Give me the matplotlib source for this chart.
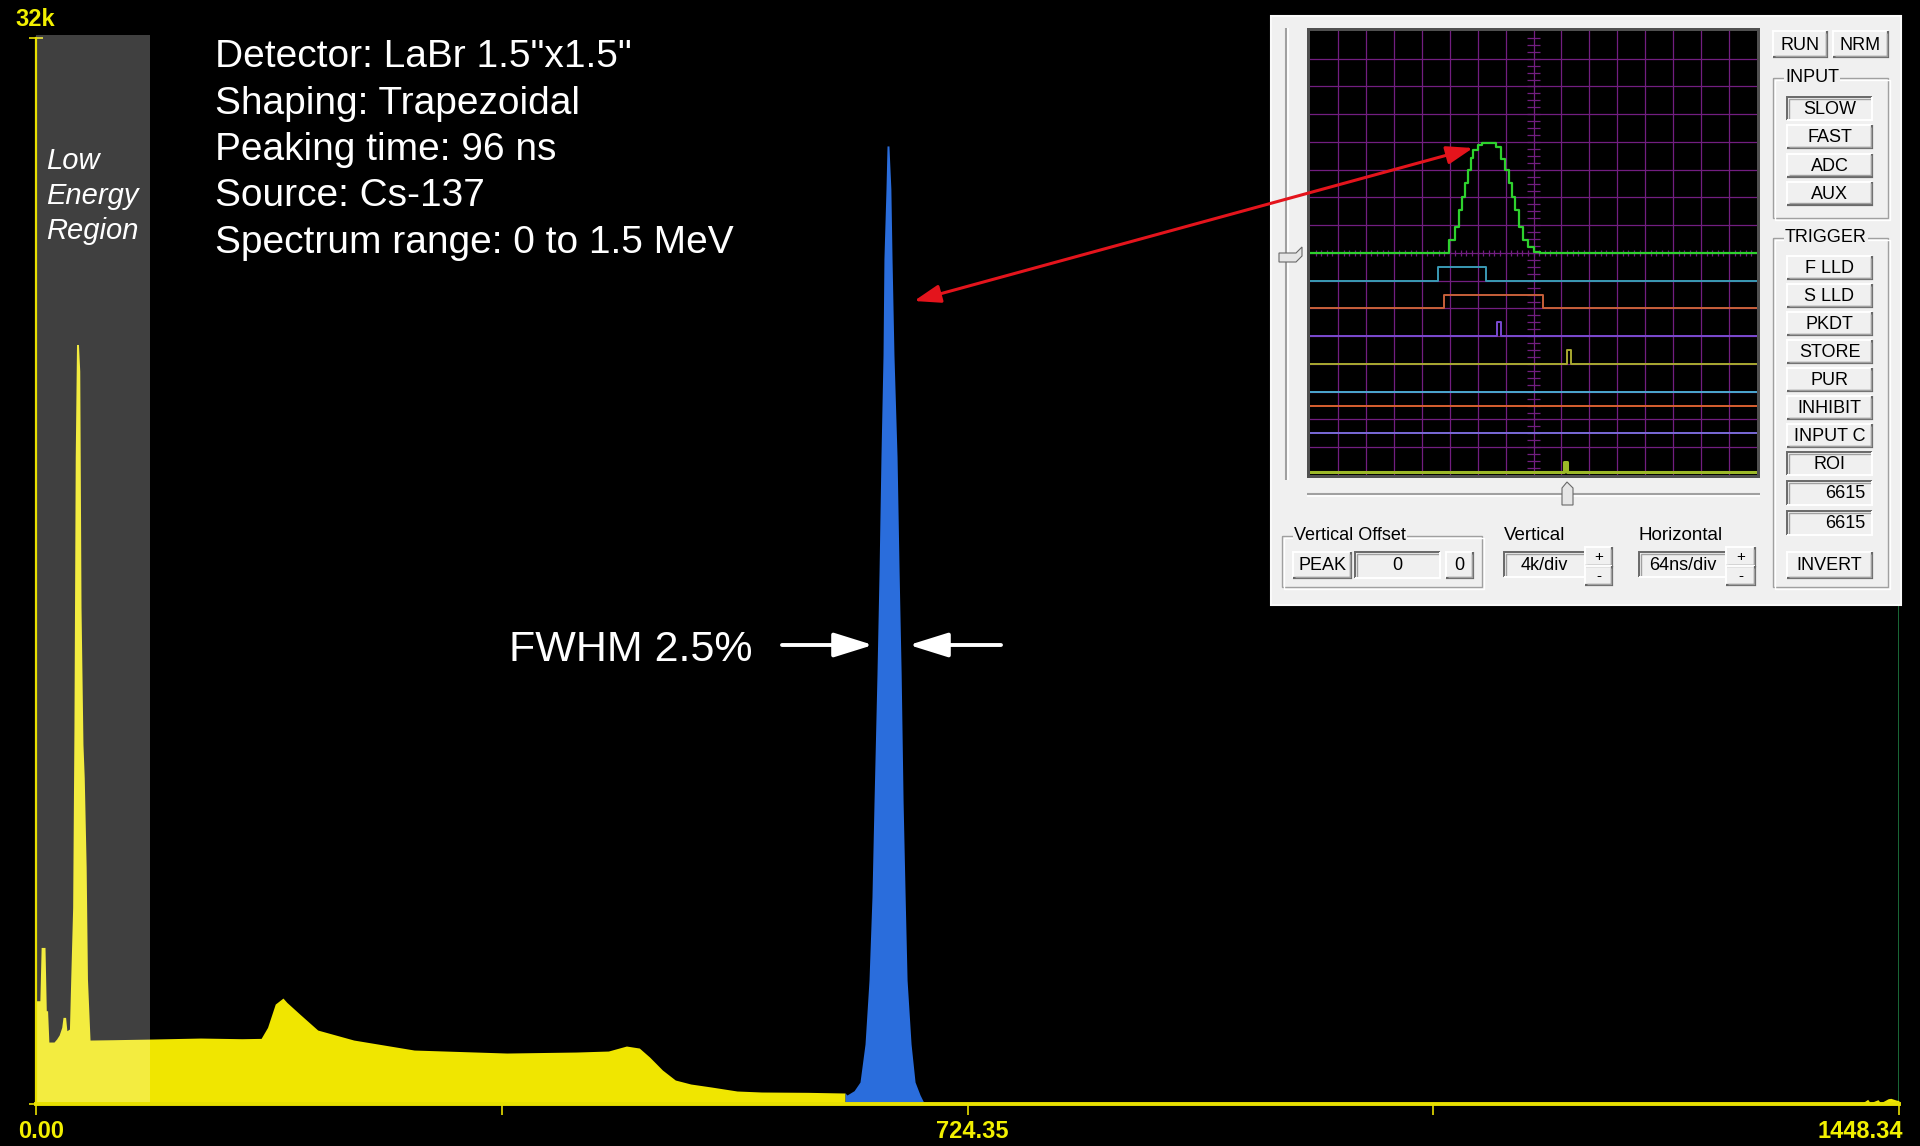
import matplotlib
matplotlib.use('Agg')
import matplotlib.pyplot as plt
from matplotlib.patches import Rectangle, FancyArrowPatch, ArrowStyle, Polygon

W, H = 1920, 1146

# ---------------- spectrum data (channel, counts) ----------------
low_ch = [0, 3, 4, 7, 8, 9, 10, 14, 16, 18, 20, 21, 23, 24, 26, 27, 28.5, 29.5, 30.5, 31.5,
          33, 34, 35, 36.5, 37.5, 39, 40, 42, 60, 90, 128, 160, 175, 180, 186, 192, 195, 205, 219, 247,
          294, 366, 420, 445, 459, 469, 477, 487, 497, 509, 525, 545, 564, 600, 629]
low_counts = [3100, 3100, 4700, 4700, 2800, 2800, 1860, 1860, 1950, 2070, 2300, 2600, 2600, 2200, 2250,
              3750, 5900, 11300, 19400, 22800, 22800, 22000, 14900, 10800, 9800, 7100, 3750, 1920, 1930,
              1950, 1980, 1960, 1970, 2300, 3000, 3180, 3050, 2700, 2220, 1920, 1620, 1530, 1560, 1590,
              1740, 1680, 1410, 1020, 720, 600, 510, 390, 360, 350, 330]
roi_ch = [629, 630.5, 636, 640.6, 644.5, 647.6, 649.9, 651.5, 653.8, 655.4, 656.9, 658.5, 659.2, 660.8,
          661.6, 663.1, 664.6, 665.5, 667.0, 669.4, 671.0, 672.6, 674.1, 675.7, 677.2, 680.3, 683.4,
          687.3, 690]
roi_counts = [330, 270, 400, 660, 1800, 3720, 6210, 9070, 12910, 15970, 19430, 22490, 25370, 27470,
              28760, 28760, 27470, 25370, 22490, 19430, 15970, 12910, 9070, 6210, 3720, 1800, 660, 270, 60]
high_ch = [690, 700, 1200, 1420, 1424, 1426, 1432, 1434, 1440, 1442, 1446, 1448.34]
high_counts = [60, 40, 35, 35, 140, 35, 130, 35, 160, 170, 120, 100]

low_energy_region = [0, 89]
x_max = 1448.34
y_max = 32000
y_max_label = '32k'
x_ticks = [0, 362.2, 724.35, 1086.3, 1448.34]
x_tick_labels = ['0.00', '', '724.35', '', '1448.34']
info_lines = ['Detector: LaBr 1.5"x1.5"', 'Shaping: Trapezoidal', 'Peaking time: 96 ns',
              'Source: Cs-137', 'Spectrum range: 0 to 1.5 MeV']
region_label = ['Low', 'Energy', 'Region']
fwhm_label = 'FWHM 2.5%'

# ---------------- oscilloscope inset traces (in divisions) ----------------
green_x = [0, 4.96, 5.18, 5.33, 5.44, 5.56, 5.67, 5.78, 5.85, 6.0, 6.15, 6.45, 6.67, 6.82, 6.97,
           7.12, 7.24, 7.34, 7.49, 7.64, 7.82, 8.01, 8.23, 16]
green_y = [8.0, 8.47, 8.95, 9.55, 10.03, 10.51, 10.99, 11.41, 11.71, 11.89, 11.98, 11.95, 11.83, 11.4,
           10.99, 10.51, 10.03, 9.55, 8.95, 8.47, 8.2, 8.05, 8.0, 8.0]
teal_x, teal_y = [0, 4.59, 6.3, 16], [7, 7.5, 7, 7]
orange_x, orange_y = [0, 4.8, 8.34, 16], [6, 6.5, 6, 6]
purple_x, purple_y = [0, 6.7, 6.82, 16], [5, 5.5, 5, 5]
olive_x, olive_y = [0, 9.2, 9.33, 16], [4, 4.5, 4, 4]
cyan_x, cyan_y = [0, 16], [3, 3]
orange2_x, orange2_y = [0, 16], [2.5, 2.5]
lav_x, lav_y = [0, 16], [1.5, 1.5]
bottom_x, bottom_y = [0, 9.08, 9.2, 16], [0.1, 0.47, 0.1, 0.1]

input_buttons = ['SLOW', 'FAST', 'ADC', 'AUX']
trigger_buttons = ['F LLD', 'S LLD', 'PKDT', 'STORE', 'PUR', 'INHIBIT', 'INPUT C', 'ROI']
roi_fields = ['6615', '6615']

SANS = 'Liberation Sans'

fig = plt.figure(figsize=(W / 100, H / 100), dpi=100, facecolor='black')


def fbox(x0, y0, x1, y1):
    return [x0 / W, 1 - y1 / H, (x1 - x0) / W, (y1 - y0) / H]


# ---------------- main spectrum ----------------
YEL = '#f0e600'
AXC = '#e8e000'
ax = fig.add_axes(fbox(36, 38, 1899, 1104), zorder=1)
ax.set_facecolor('black')
ax.set_xlim(0, x_max)
ax.set_ylim(0, y_max)
ax.fill_between(low_ch, low_counts, color=YEL, lw=0, zorder=2)
ax.fill_between(high_ch, high_counts, color=YEL, lw=0, zorder=2)
ax.fill_between(roi_ch, roi_counts, color='#2a6ddc', lw=0, zorder=2)
ax.axvspan(low_energy_region[0], low_energy_region[1], ymin=0, ymax=1.003, color='white',
           alpha=0.255, lw=0, zorder=3, clip_on=False)
ax.axvline(x_max, color='#1f7a40', lw=1.2, zorder=1)
for s in ['top', 'right']:
    ax.spines[s].set_visible(False)
ax.spines['left'].set_color(AXC)
ax.spines['left'].set_linewidth(1.6)
ax.spines['bottom'].set_color(AXC)
ax.spines['bottom'].set_linewidth(2.8)
ax.spines['left'].set_zorder(5)
ax.spines['bottom'].set_zorder(5)
ax.set_xticks(x_ticks)
ax.set_xticklabels([])
ax.set_yticks([0, y_max])
ax.set_yticklabels([])
ax.tick_params(axis='x', colors=AXC, length=8, width=1.2, direction='out')
ax.tick_params(axis='y', colors=AXC, length=10, width=1.2, direction='inout')

LAB = '#f2f000'
lab_fs = 17
for pos, lab in zip(x_ticks, x_tick_labels):
    if not lab:
        continue
    if pos >= x_max:
        ha, dx = 'right', 4
    else:
        ha, dx = 'center', 5
    ax.annotate(lab, xy=(pos, 0), xycoords=('data', 'axes fraction'), xytext=(dx, -27),
                textcoords='offset pixels', ha=ha, va='center', color=LAB, fontsize=lab_fs,
                family=SANS, fontweight='bold', annotation_clip=False)

# ---------------- inset panel ----------------
pan = fig.add_axes([0, 0, 1, 1], zorder=2)
pan.set_xlim(0, W)
pan.set_ylim(H, 0)
pan.axis('off')
BG = '#f0f0f0'
DK = '#696969'
MD = '#a0a0a0'


def rect(x0, y0, x1, y1, fc, ec='none', lw=0, z=2):
    pan.add_patch(Rectangle((x0, y0), x1 - x0, y1 - y0, facecolor=fc, edgecolor=ec, linewidth=lw, zorder=z))


def seg(xs, ys, c, lw=1.0, z=3):
    pan.plot(xs, ys, color=c, lw=lw, zorder=z, solid_capstyle='butt', solid_joinstyle='miter')


def ptext(x, y, s, ha='center', fs=13):
    pan.text(x, y, s, ha=ha, va='center', fontsize=fs, family=SANS, color='black', zorder=6)


def raised(x0, y0, x1, y1, label=None, fs=13):
    rect(x0, y0, x1, y1, BG)
    seg([x0, x0, x1], [y1, y0, y0], 'white', 1.4)
    seg([x0, x1, x1], [y1, y1, y0], DK, 1.6)
    seg([x0 + 1.5, x1 - 1.5, x1 - 1.5], [y1 - 1.5, y1 - 1.5, y0 + 1.5], MD, 1.0)
    if label:
        ptext((x0 + x1) / 2, (y0 + y1) / 2 + 1, label, fs=fs)


def sunken(x0, y0, x1, y1, label=None, ha='center', fs=13):
    rect(x0, y0, x1, y1, BG)
    seg([x0, x0, x1], [y1, y0, y0], DK, 1.4)
    seg([x0 + 1.5, x0 + 1.5, x1 - 1.5], [y1 - 1.5, y0 + 1.5, y0 + 1.5], MD, 1.0)
    seg([x0, x1, x1], [y1, y1, y0], 'white', 1.4)
    if label:
        if ha == 'center':
            ptext((x0 + x1) / 2, (y0 + y1) / 2 + 1, label, fs=fs)
        else:
            ptext(x1 - 7, (y0 + y1) / 2 + 1, label, ha='right', fs=fs)


def group(x0, y0, x1, y1, label):
    seg([x0, x1, x1, x0, x0], [y0, y0, y1, y1, y0], MD, 1.0)
    seg([x0 + 1.5, x1 + 1.5, x1 + 1.5, x0 + 1.5, x0 + 1.5],
        [y0 + 1.5, y0 + 1.5, y1 + 1.5, y1 + 1.5, y0 + 1.5], 'white', 1.0)
    pan.text(x0 + 12, y0, label, ha='left', va='center', fontsize=13, family=SANS, zorder=6,
             bbox=dict(facecolor=BG, edgecolor='none', pad=1))


rect(1271, 16, 1901, 605, BG, ec='#fafafa', lw=1.5)
# scope frame
rect(1307, 28, 1760, 478, '#505050', z=2)

# vertical slider
seg([1286, 1286], [28, 480], MD, 1.5)
seg([1288, 1288], [28, 480], 'white', 1.2)
pan.add_patch(Polygon([(1279, 262), (1279, 253), (1296, 253), (1302, 247), (1302, 256), (1296, 262)],
                      closed=True, facecolor='#e6e6e6', edgecolor=DK, linewidth=0.8, zorder=4))
# horizontal slider
seg([1307, 1760], [494, 494], MD, 1.5)
seg([1307, 1760], [496, 496], 'white', 1.2)
pan.add_patch(Polygon([(1562, 505), (1562, 488), (1567, 482), (1573, 488), (1573, 505)],
                      closed=True, facecolor='#e6e6e6', edgecolor=DK, linewidth=0.8, zorder=4))

raised(1773, 31, 1827, 57, 'RUN')
raised(1833, 31, 1888, 57, 'NRM')
group(1773, 78, 1888, 218, 'INPUT')
for i, lab in enumerate(input_buttons):
    y0 = 97 + i * 28.3
    if i == 0:
        sunken(1787, y0, 1872, y0 + 23, lab)
    else:
        raised(1787, y0, 1872, y0 + 23, lab)
group(1773, 238, 1888, 587, 'TRIGGER')
for i, lab in enumerate(trigger_buttons):
    y0 = 256 + i * 28
    if lab == 'ROI':
        sunken(1787, y0, 1872, y0 + 23, lab)
    else:
        raised(1787, y0, 1872, y0 + 23, lab)
for i, lab in enumerate(roi_fields):
    y0 = 481 + i * 30
    sunken(1787, y0, 1872, y0 + 24, lab, ha='right')
raised(1787, 552, 1872, 578, 'INVERT')

group(1282, 536, 1482, 587, 'Vertical Offset')
raised(1293, 552, 1351, 578, 'PEAK')
sunken(1355, 552, 1440, 578, '0')
raised(1446, 552, 1473, 578, '0')

ptext(1504, 536, 'Vertical', ha='left', fs=13.5)
sunken(1504, 552, 1585, 577, '4k/div')
raised(1585, 547, 1612, 566, '+', fs=11)
raised(1585, 566, 1612, 585, '-', fs=11)
ptext(1639, 536, 'Horizontal', ha='left', fs=13.5)
sunken(1639, 552, 1726, 577, '64ns/div')
raised(1726, 547, 1755, 566, '+', fs=11)
raised(1726, 566, 1755, 585, '-', fs=11)

# ---------------- oscilloscope ----------------
sc = fig.add_axes(fbox(1310, 31, 1757, 475), zorder=3)
sc.set_facecolor('black')
sc.set_xlim(0, 16)
sc.set_ylim(0, 16)
sc.set_xticks([])
sc.set_yticks([])
for s in sc.spines.values():
    s.set_visible(False)
GRID = '#721e80'
for k in range(1, 16):
    sc.axvline(k, color=GRID, lw=0.9, zorder=1)
    sc.axhline(k, color=GRID, lw=0.9, zorder=1)
ticks = [i * 0.25 for i in range(1, 64)]
sc.hlines(ticks, 7.77, 8.23, color=GRID, lw=0.9, zorder=1)
sc.vlines([i * 0.2 for i in range(1, 80)], 7.9, 8.1, color=GRID, lw=0.9, zorder=1)

traces = [
    (green_x, green_y, '#2ed12e', 1.6),
    (teal_x, teal_y, '#3a9ab4', 1.4),
    (orange_x, orange_y, '#c8603a', 1.4),
    (purple_x, purple_y, '#7a4ad0', 1.4),
    (olive_x, olive_y, '#a8a830', 1.4),
    (cyan_x, cyan_y, '#4aa8d0', 1.4),
    (orange2_x, orange2_y, '#d86030', 1.4),
    (lav_x, lav_y, '#7a6ad8', 1.4),
    (bottom_x, bottom_y, '#9cb828', 2.2),
]
for xs, ys, c, lw in traces:
    sc.plot(xs, ys, drawstyle='steps-post', color=c, lw=lw, zorder=3)

# ---------------- overlay texts & arrows ----------------
ov = fig.add_axes([0, 0, 1, 1], zorder=5)
ov.set_xlim(0, W)
ov.set_ylim(H, 0)
ov.axis('off')

ov.text(35, 19, y_max_label, ha='center', va='center', color=LAB, fontsize=lab_fs,
        family=SANS, fontweight='bold')

for i, line in enumerate(info_lines):
    ov.text(215, 67 + i * 46.5, line, ha='left', va='baseline', color='white', fontsize=28, family=SANS)

for i, line in enumerate(region_label):
    ov.text(46, 169 + i * 35, line, ha='left', va='baseline', color='white', fontsize=21,
            family=SANS, style='italic')

ov.text(509, 661, fwhm_label, ha='left', va='baseline', color='white', fontsize=31, family=SANS)

wstyle = ArrowStyle('-|>', head_length=24, head_width=7.5)
ov.add_patch(FancyArrowPatch(posA=(782, 645), posB=(873, 645), arrowstyle=wstyle, mutation_scale=1,
                             color='white', lw=2.8, shrinkA=0, shrinkB=0))
ov.add_patch(FancyArrowPatch(posA=(1001, 645), posB=(909, 645), arrowstyle=wstyle, mutation_scale=1,
                             color='white', lw=2.8, shrinkA=0, shrinkB=0))

rstyle = ArrowStyle('<|-|>', head_length=16, head_width=5.5)
ov.add_patch(FancyArrowPatch(posA=(914, 301), posB=(1473, 148), arrowstyle=rstyle, mutation_scale=1,
                             color='#e4141c', lw=2.2, shrinkA=0, shrinkB=0))

fig.savefig('out.png', dpi=100, facecolor='black')
